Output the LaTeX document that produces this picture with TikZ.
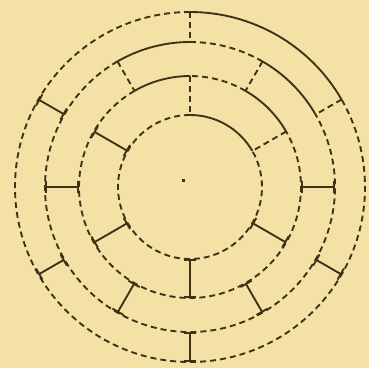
\documentclass[tikz,border=0pt]{standalone}
\usepackage{tikz}
\usepackage{xcolor}

\begin{document}
\begin{tikzpicture}[x=0.75pt,y=0.75pt,yscale=-1,xscale=1,
  wall/.style={color={rgb, 255:red, 64; green, 48; blue, 22 }, line width=1.4pt},
  dashwall/.style={wall, dash pattern=on 4.5pt off 3pt},
  door/.style={wall, |-|}]
%set diagram left start at 0, and has height of 368
\useasboundingbox [fill={rgb, 255:red, 244; green, 225; blue, 166 }] (0,0) rectangle (369,368);

\coordinate (O) at (190,187);

\begin{scope}[shift={(O)},yscale=-1]
%Shape: Arc [outer ring]
\draw [wall] (30:175) arc[start angle=30, end angle=90, radius=175];
\draw [dashwall] (90:175) arc[start angle=90, end angle=390, radius=175];
%Shape: Arc [second ring]
\draw [wall] (30:145) arc[start angle=30, end angle=60, radius=145];
\draw [dashwall] (60:145) arc[start angle=60, end angle=90, radius=145];
\draw [wall] (90:145) arc[start angle=90, end angle=120, radius=145];
\draw [dashwall] (120:145) arc[start angle=120, end angle=390, radius=145];
%Shape: Arc [third ring]
\draw [wall] (30:111) arc[start angle=30, end angle=60, radius=111];
\draw [dashwall] (60:111) arc[start angle=60, end angle=90, radius=111];
\draw [wall] (90:111) arc[start angle=90, end angle=120, radius=111];
\draw [dashwall] (120:111) arc[start angle=120, end angle=390, radius=111];
%Shape: Arc [inner ring]
\draw [wall] (30:72) arc[start angle=30, end angle=90, radius=72];
\draw [dashwall] (90:72) arc[start angle=90, end angle=390, radius=72];

%Straight Lines [outer to second]
\draw [dashwall] (90:175) -- (90:145);
\draw [dashwall] (30:175) -- (30:145);
\draw [door] (150:175) -- (150:145);
\draw [door] (210:175) -- (210:145);
\draw [door] (270:175) -- (270:145);
\draw [door] (330:175) -- (330:145);
%Straight Lines [second to third]
\draw [door] (0:145) -- (0:111);
\draw [dashwall] (60:145) -- (60:111);
\draw [dashwall] (120:145) -- (120:111);
\draw [door] (180:145) -- (180:111);
\draw [door] (240:145) -- (240:111);
\draw [door] (300:145) -- (300:111);
%Straight Lines [third to inner]
\draw [dashwall] (90:111) -- (90:72);
\draw [dashwall] (30:111) -- (30:72);
\draw [door] (150:111) -- (150:72);
\draw [door] (210:111) -- (210:72);
\draw [door] (270:111) -- (270:72);
\draw [door] (330:111) -- (330:72);
\end{scope}

%Shape: Rectangle [centre dot]
\fill [color={rgb, 255:red, 64; green, 48; blue, 22 }] (182,179) rectangle (185,181.5);

\end{tikzpicture}
\end{document}
